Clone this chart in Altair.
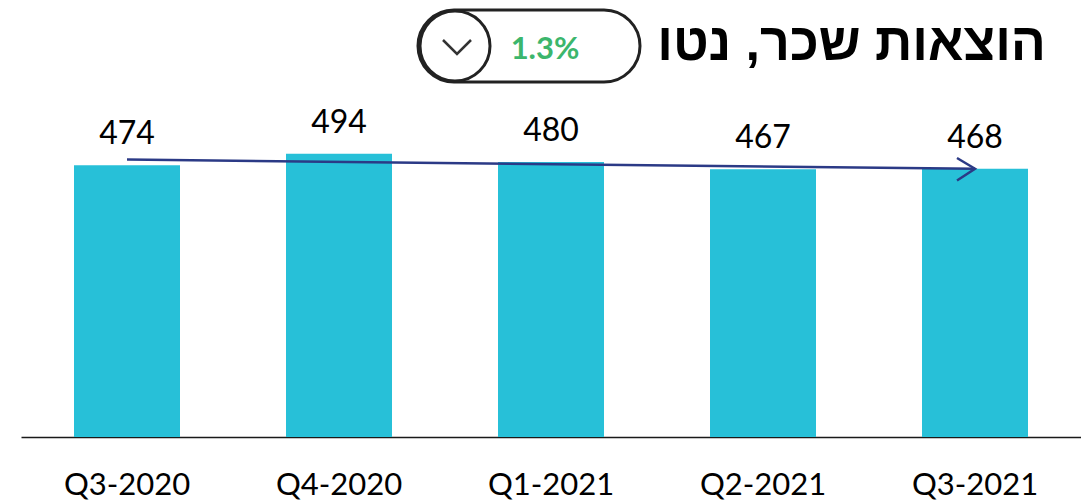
import altair as alt
import pandas as pd

quarters = ["Q3-2020", "Q4-2020", "Q1-2021", "Q2-2021", "Q3-2021"]
values = [474, 494, 480, 467, 468]
trend_quarters = ["Q3-2020", "Q3-2021"]
trend_values = [484, 468]
title_text = "הוצאות שכר, נטו"
change_text = "1.3%"

df = pd.DataFrame({"q": quarters, "v": values})
trend = pd.DataFrame({"q": trend_quarters, "v": trend_values})
tip = trend.iloc[[-1]]

W, H = 1060, 337
NAVY = "#2B3A86"

x = alt.X("q:N", sort=quarters,
          scale=alt.Scale(paddingInner=0.5, paddingOuter=0.25),
          axis=alt.Axis(title=None, labelAngle=0, ticks=False, domainColor="#1a1a1a",
                        domainWidth=1.5, labelPadding=33, labelFontSize=31,
                        labelFont="Lato", labelColor="#000000"))
y = alt.Y("v:Q", scale=alt.Scale(domain=[0, 588]), axis=None)

bars = alt.Chart(df).mark_bar(color="#27C0D8").encode(x=x, y=y)
labels = alt.Chart(df).mark_text(font="Lato", fontSize=32, baseline="alphabetic", dy=-21,
                                 color="#000000").encode(x=x, y=y, text="v:Q")
line = alt.Chart(trend).mark_line(color=NAVY, strokeWidth=2.5).encode(x=x, y=y)
head = alt.Chart(tip).mark_point(shape="M-1,-0.6L0,0L-1,0.65", size=1296, filled=False,
                                 stroke=NAVY, strokeWidth=2.5, opacity=1).encode(x=x, y=y)

tdf = pd.DataFrame({"t": [title_text]})
cdf = pd.DataFrame({"t": [change_text]})

pill = alt.Chart(cdf).mark_rect(cornerRadius=36, fill="white", stroke="#222222",
                                strokeWidth=3).encode(
    x=alt.value(397), x2=alt.value(619), y=alt.value(-90), y2=alt.value(-18))
circle = alt.Chart(cdf).mark_point(shape="circle", size=4900, filled=True, fill="white",
                                   stroke="#222222", strokeWidth=3, opacity=1).encode(
    x=alt.value(434), y=alt.value(-54))
chevron = alt.Chart(cdf).mark_point(shape="M-1,-0.5L0,0.5L1,-0.5", size=784, filled=False,
                                    stroke="#333333", strokeWidth=2.5, opacity=1).encode(
    x=alt.value(436), y=alt.value(-53))
change = alt.Chart(cdf).mark_text(font="Lato", fontSize=31, fontWeight="bold", color="#3CB66C",
                                  align="center", baseline="middle").encode(
    x=alt.value(524), y=alt.value(-50), text="t:N")
title = alt.Chart(tdf).mark_text(font="Liberation Sans", fontSize=52, fontWeight="bold",
                                 color="#000000", align="right", baseline="middle").encode(
    x=alt.value(1025), y=alt.value(-56), text="t:N")

chart = alt.layer(bars, labels, line, head, title, pill, circle, chevron, change).properties(
    width=W, height=H,
    autosize=alt.AutoSizeParams(type="none"),
    padding={"left": 13, "top": 92, "right": 0, "bottom": 66},
).configure_view(stroke=None)

chart.save("out.html", embed_options={"renderer": "svg", "actions": False})
